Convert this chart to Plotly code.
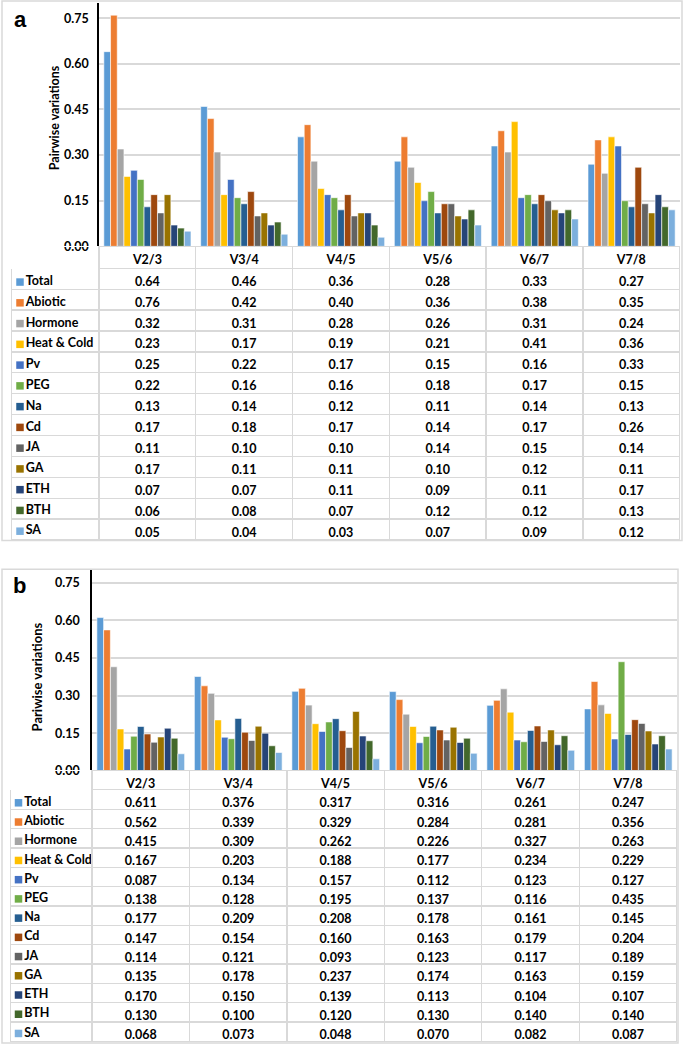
import plotly.graph_objects as go

W, H = 685, 1052

categories = ["V2/3", "V3/4", "V4/5", "V5/6", "V6/7", "V7/8"]
series_names = ["Total", "Abiotic", "Hormone", "Heat & Cold", "Pv", "PEG",
                "Na", "Cd", "JA", "GA", "ETH", "BTH", "SA"]
series_colors = ["#5B9BD5", "#ED7D31", "#A5A5A5", "#FFC000", "#4472C4", "#70AD47",
                 "#255E91", "#9E480E", "#636363", "#997300", "#264478", "#43682B", "#7CAFDD"]

# Panel a values
a_total = [0.64, 0.46, 0.36, 0.28, 0.33, 0.27]
a_abiotic = [0.76, 0.42, 0.40, 0.36, 0.38, 0.35]
a_hormone = [0.32, 0.31, 0.28, 0.26, 0.31, 0.24]
a_heatcold = [0.23, 0.17, 0.19, 0.21, 0.41, 0.36]
a_pv = [0.25, 0.22, 0.17, 0.15, 0.16, 0.33]
a_peg = [0.22, 0.16, 0.16, 0.18, 0.17, 0.15]
a_na = [0.13, 0.14, 0.12, 0.11, 0.14, 0.13]
a_cd = [0.17, 0.18, 0.17, 0.14, 0.17, 0.26]
a_ja = [0.11, 0.10, 0.10, 0.14, 0.15, 0.14]
a_ga = [0.17, 0.11, 0.11, 0.10, 0.12, 0.11]
a_eth = [0.07, 0.07, 0.11, 0.09, 0.11, 0.17]
a_bth = [0.06, 0.08, 0.07, 0.12, 0.12, 0.13]
a_sa = [0.05, 0.04, 0.03, 0.07, 0.09, 0.12]

# Panel b values
b_total = [0.611, 0.376, 0.317, 0.316, 0.261, 0.247]
b_abiotic = [0.562, 0.339, 0.329, 0.284, 0.281, 0.356]
b_hormone = [0.415, 0.309, 0.262, 0.226, 0.327, 0.263]
b_heatcold = [0.167, 0.203, 0.188, 0.177, 0.234, 0.229]
b_pv = [0.087, 0.134, 0.157, 0.112, 0.123, 0.127]
b_peg = [0.138, 0.128, 0.195, 0.137, 0.116, 0.435]
b_na = [0.177, 0.209, 0.208, 0.178, 0.161, 0.145]
b_cd = [0.147, 0.154, 0.160, 0.163, 0.179, 0.204]
b_ja = [0.114, 0.121, 0.093, 0.123, 0.117, 0.189]
b_ga = [0.135, 0.178, 0.237, 0.174, 0.163, 0.159]
b_eth = [0.170, 0.150, 0.139, 0.113, 0.104, 0.107]
b_bth = [0.130, 0.100, 0.120, 0.130, 0.140, 0.140]
b_sa = [0.068, 0.073, 0.048, 0.070, 0.082, 0.087]

y_ticks = [0.0, 0.15, 0.30, 0.45, 0.60, 0.75]

panel_a = [a_total, a_abiotic, a_hormone, a_heatcold, a_pv, a_peg, a_na,
           a_cd, a_ja, a_ga, a_eth, a_bth, a_sa]
panel_b = [b_total, b_abiotic, b_hormone, b_heatcold, b_pv, b_peg, b_na,
           b_cd, b_ja, b_ga, b_eth, b_bth, b_sa]


def px(x):
    return x / W


def py(y):
    return 1 - y / H


FONT = "Lato"
GRID = "#d9d9d9"
CLEAR = "rgba(0,0,0,0)"
n = len(series_names)
row_index = list(range(n))

fig = go.Figure()

for name, color, va, vb in zip(series_names, series_colors, panel_a, panel_b):
    fig.add_trace(go.Bar(x=categories, y=va, name=name, marker_color=color,
                         marker_line=dict(color="white", width=0.6),
                         xaxis="x", yaxis="y", showlegend=False))
    fig.add_trace(go.Bar(x=categories, y=vb, name=name, marker_color=color,
                         marker_line=dict(color="white", width=0.6),
                         xaxis="x2", yaxis="y2", showlegend=False))


def make_table(data, fmt, x0, x1, y0, y1, col0w, colw, hdr_h, row_h):
    cols = [[""] * n]
    for j in range(len(categories)):
        cols.append([data[i][j] for i in range(n)])
    cell_font = dict(family=FONT, size=12.5, color="black", weight="bold")
    return go.Table(
        domain=dict(x=[px(x0), px(x1)], y=[py(y1), py(y0)]),
        columnwidth=[col0w] + [colw] * len(categories),
        header=dict(values=[""] + categories,
                    height=hdr_h,
                    align="center",
                    fill=dict(color=CLEAR),
                    line=dict(color=["white"] + [GRID] * len(categories), width=1.3),
                    font=cell_font),
        cells=dict(values=cols, height=row_h,
                   format=[""] + [fmt] * len(categories),
                   align=["left"] + ["center"] * len(categories),
                   fill=dict(color=CLEAR),
                   line=dict(color=GRID, width=1.3),
                   font=cell_font),
    )


# table geometry (pixels): left, right, top, bottom of domain, col widths, header/row heights
A_TAB = (11.7, 680, 248, 548, 87.3, 96.8, 22, 20.9)
B_TAB = (10.7, 677, 776, 1052, 81.3, 97.5, 19, 19.35)
fig.add_trace(make_table(panel_a, ".2f", *A_TAB))
fig.add_trace(make_table(panel_b, ".3f", *B_TAB))

# colour keys + row names of the first table column, on helper axes aligned with table rows
for (xa, ya) in (("x3", "y3"), ("x4", "y4")):
    fig.add_trace(go.Scatter(x=[0] * n, y=row_index, mode="markers+text",
                             text=series_names, textposition="middle right",
                             textfont=dict(family=FONT, size=12.5, color="black", weight="bold"),
                             marker=dict(symbol="square", size=7.5, color=series_colors,
                                         line=dict(width=0)),
                             xaxis=xa, yaxis=ya, showlegend=False, hoverinfo="skip",
                             cliponaxis=False))


def helper_axes(tab, key_px, x_anchor, y_anchor, nudge=3.5):
    x0, x1, y0, y1, c0, cw, hh, rh = tab
    body_top = y0 + hh + nudge
    body_bot = body_top + rh * n
    xa = dict(domain=[px(x0), px(x0 + c0)], range=[-(key_px - x0), x0 + c0 - key_px],
              visible=False, fixedrange=True, anchor=y_anchor)
    ya = dict(domain=[py(body_bot), py(body_top)], range=[n - 0.5, -0.5],
              visible=False, fixedrange=True, anchor=x_anchor)
    return xa, ya


xa3, ya3 = helper_axes(A_TAB, 20, "x3", "y3")
xa4, ya4 = helper_axes(B_TAB, 18.5, "x4", "y4")

tickfont = dict(family=FONT, size=12.5, color="black", weight="bold")

fig.update_layout(
    width=W, height=H,
    margin=dict(l=0, r=0, t=0, b=0),
    paper_bgcolor="white", plot_bgcolor=CLEAR,
    barmode="group", bargap=0.1, bargroupgap=0.0,
    xaxis=dict(domain=[px(99), px(680)], anchor="y", showticklabels=False,
               showgrid=False, zeroline=False, showline=False,
               range=[-0.5, 5.5], fixedrange=True),
    yaxis=dict(domain=[py(248), py(3)], anchor="x", range=[0, 0.8],
               tickvals=y_ticks, tickformat=".2f", tickfont=tickfont,
               showgrid=True, gridcolor=GRID, gridwidth=1.6,
               zeroline=False, showline=True, linecolor="black", linewidth=1.5,
               ticks="", ticklabelstandoff=6),
    xaxis2=dict(domain=[px(92), px(677)], anchor="y2", showticklabels=False,
                showgrid=False, zeroline=False, showline=False,
                range=[-0.5, 5.5], fixedrange=True),
    yaxis2=dict(domain=[py(776), py(574)], anchor="x2", range=[0, 0.8],
                tickvals=y_ticks, tickformat=".2f", tickfont=tickfont,
                showgrid=True, gridcolor=GRID, gridwidth=1.6,
                zeroline=False, showline=True, linecolor="black", linewidth=1.5,
                ticks="", ticklabelstandoff=8),
    xaxis3=xa3, yaxis3=ya3, xaxis4=xa4, yaxis4=ya4,
)

# Panel frames
fig.add_shape(type="rect", xref="paper", yref="paper",
              x0=px(2), x1=px(682), y0=py(544), y1=py(1),
              line=dict(color=GRID, width=1.5), layer="below")
fig.add_shape(type="rect", xref="paper", yref="paper",
              x0=px(2), x1=px(678), y0=py(1050), y1=py(573),
              line=dict(color=GRID, width=1.5), layer="below")

# Panel letters and axis titles
ann = dict(xref="paper", yref="paper", showarrow=False, xanchor="center", yanchor="middle")
fig.add_annotation(text="<b>a</b>", x=px(20), y=py(20),
                   font=dict(family="Liberation Sans", size=22, color="black"), **ann)
fig.add_annotation(text="<b>b</b>", x=px(19), y=py(589),
                   font=dict(family="Liberation Sans", size=22, color="black"), **ann)
fig.add_annotation(text="<b>Pairwise variations</b>", x=px(54), y=py(119), textangle=-90,
                   font=dict(family=FONT, size=12.5, color="black"), **ann)
fig.add_annotation(text="<b>Pariwise variations</b>", x=px(37), y=py(682), textangle=-90,
                   font=dict(family=FONT, size=13, color="black"), **ann)

fig.write_html("out.html", config={"displayModeBar": False},
               post_script="document.body.style.margin='0px';")
